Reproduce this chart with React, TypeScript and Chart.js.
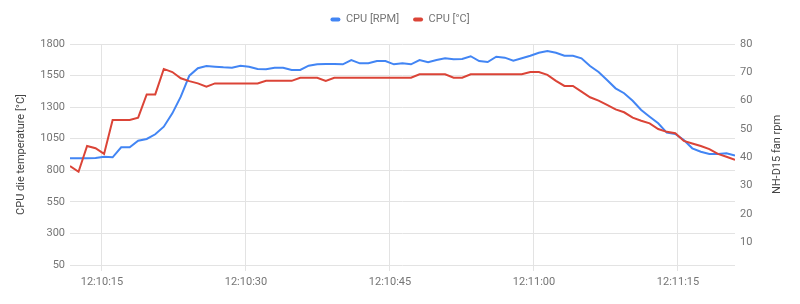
import React, { useEffect, useRef } from 'react';
import { Chart, registerables } from 'chart.js';

Chart.register(...registerables);

// seconds after 12:10:00
const times = [
  11.67, 12.56, 13.45, 14.33, 15.22, 16.11, 17.0, 17.89, 18.77, 19.66,
  20.55, 21.44, 22.33, 23.21, 24.1, 24.99, 25.88, 26.77, 27.65, 28.54,
  29.43, 30.32, 31.21, 32.09, 32.98, 33.87, 34.76, 35.65, 36.53, 37.42,
  38.31, 39.2, 40.09, 40.97, 41.86, 42.75, 43.64, 44.53, 45.41, 46.3,
  47.19, 48.08, 48.97, 49.85, 50.74, 51.63, 52.52, 53.41, 54.29, 55.18,
  56.07, 56.96, 57.85, 58.73, 59.62, 60.51, 61.4, 62.29, 63.17, 64.06,
  64.95, 65.84, 66.73, 67.61, 68.5, 69.39, 70.28, 71.17, 72.05, 72.94,
  73.83, 74.72, 75.61, 76.49, 77.38, 78.27, 79.16, 80.05, 80.94,
];

const cpuRpm = [
  895, 895, 896, 897, 908, 903, 982, 982, 1034, 1048,
  1085, 1145, 1251, 1383, 1549, 1608, 1626, 1620, 1615, 1612,
  1628, 1620, 1602, 1600, 1612, 1612, 1594, 1594, 1628, 1639,
  1642, 1642, 1639, 1673, 1647, 1647, 1665, 1665, 1639, 1647,
  1639, 1673, 1655, 1673, 1687, 1679, 1681, 1703, 1665, 1657,
  1699, 1692, 1668, 1687, 1707, 1731, 1745, 1731, 1707, 1707,
  1687, 1626, 1578, 1515, 1449, 1410, 1351, 1277, 1224, 1172,
  1098, 1087, 1040, 974, 947, 929, 929, 935, 916,
];

const cpuTemp = [
  36.9, 34.9, 44.0, 43.2, 41.2, 53.2, 53.2, 53.2, 54.0, 62.2,
  62.2, 71.2, 70.1, 67.9, 66.9, 66.1, 64.9, 66.1, 66.1, 66.1,
  66.1, 66.1, 66.1, 67.0, 67.0, 67.0, 67.0, 68.1, 68.1, 68.1,
  67.0, 68.1, 68.1, 68.1, 68.1, 68.1, 68.1, 68.1, 68.1, 68.1,
  68.1, 69.3, 69.3, 69.3, 69.3, 68.1, 68.1, 69.3, 69.3, 69.3,
  69.3, 69.3, 69.3, 69.3, 70.1, 70.1, 69.1, 67.0, 65.2, 65.2,
  63.2, 61.2, 60.0, 58.5, 56.9, 55.9, 54.0, 52.9, 52.0, 50.0,
  49.0, 48.5, 45.8, 44.9, 44.0, 42.9, 41.2, 40.2, 39.1,
];

const xTickSeconds = [15, 30, 45, 60, 75];
const leftTicks = [50, 300, 550, 800, 1050, 1300, 1550, 1800];
const rightTicks = [10, 20, 30, 40, 50, 60, 70, 80];

const seriesLabels = ['CPU [RPM]', 'CPU [°C]'];
const leftTitle = 'CPU die temperature [°C]';
const rightTitle = 'NH-D15 fan rpm';
const BLUE = '#4285F4';
const RED = '#DB4437';
const GRID = '#e3e3e3';
const TICK_COLOR = '#757575';
const TITLE_COLOR = '#444444';
const FONT = 'Roboto';

function fmtTime(s: number): string {
  const m = 10 + Math.floor(s / 60);
  const ss = Math.round(s % 60);
  return `12:${m}:${String(ss).padStart(2, '0')}`;
}

const legendHeightPlugin = {
  id: 'legendHeight',
  beforeUpdate(chart: any) {
    const lg = chart.legend;
    if (lg && !lg._patched) {
      const orig = lg.fit;
      lg.fit = function () {
        orig.call(this);
        this.height = 44;
      };
      lg._patched = true;
    }
  },
};

// right axis title, reading bottom-to-top like the left one
const rightTitlePlugin = {
  id: 'rightTitle',
  afterDraw(chart: any) {
    const { ctx, chartArea } = chart;
    ctx.save();
    ctx.translate(777, (chartArea.top + chartArea.bottom) / 2);
    ctx.rotate(-Math.PI / 2);
    ctx.font = `11px ${FONT}`;
    ctx.fillStyle = TITLE_COLOR;
    ctx.textAlign = 'center';
    ctx.textBaseline = 'middle';
    ctx.fillText(rightTitle, 0, 0);
    ctx.restore();
  },
};

export default function App() {
  const ref = useRef<HTMLCanvasElement | null>(null);

  useEffect(() => {
    if (!ref.current) return;
    const chart = new Chart(ref.current, {
      type: 'line',
      data: {
        datasets: [
          {
            label: seriesLabels[0],
            data: times.map((t, i) => ({ x: t, y: cpuRpm[i] })),
            borderColor: BLUE,
            backgroundColor: BLUE,
            borderWidth: 2,
            pointRadius: 0,
            tension: 0,
            yAxisID: 'yL',
            order: 1,
          },
          {
            label: seriesLabels[1],
            data: times.map((t, i) => ({ x: t, y: cpuTemp[i] })),
            borderColor: RED,
            backgroundColor: RED,
            borderWidth: 2,
            pointRadius: 0,
            tension: 0,
            yAxisID: 'yR',
            order: 0,
          },
        ],
      },
      options: {
        animation: false,
        responsive: false,
        maintainAspectRatio: false,
        devicePixelRatio: 1,
        layout: { padding: 0 },
        plugins: {
          tooltip: { enabled: false },
          legend: {
            position: 'top',
            labels: {
              boxWidth: 10,
              boxHeight: 4,
              padding: 14,
              color: TICK_COLOR,
              font: { family: FONT, size: 11 },
              useBorderRadius: true,
              borderRadius: 2,
              sort: (a: any, b: any) => a.datasetIndex - b.datasetIndex,
              generateLabels: (c: any) =>
                Chart.defaults.plugins.legend.labels
                  .generateLabels(c)
                  .map((it: any) => ({ ...it, lineWidth: 0, fillStyle: it.strokeStyle })),
            },
          },
        },
        scales: {
          x: {
            type: 'linear',
            min: times[0],
            max: times[times.length - 1],
            afterBuildTicks: (s: any) => {
              s.ticks = xTickSeconds.map((v) => ({ value: v }));
            },
            afterFit: (s: any) => {
              s.height = 39;
            },
            grid: { color: GRID, tickLength: 6, drawTicks: true },
            border: { display: false },
            ticks: {
              color: TICK_COLOR,
              font: { family: FONT, size: 11 },
              padding: 5,
              maxRotation: 0,
              autoSkip: false,
              callback: (v: any) => fmtTime(Number(v)),
            },
          },
          yL: {
            type: 'linear',
            position: 'left',
            min: 50,
            max: 1800,
            afterBuildTicks: (s: any) => {
              s.ticks = leftTicks.map((v) => ({ value: v }));
            },
            afterFit: (s: any) => {
              s.width = 70;
            },
            grid: { color: GRID, drawTicks: false },
            border: { display: false },
            ticks: {
              color: TICK_COLOR,
              font: { family: FONT, size: 11 },
              padding: 5,
              callback: (v: any) => String(v),
            },
            title: {
              display: true,
              text: leftTitle,
              color: TITLE_COLOR,
              font: { family: FONT, size: 11 },
              padding: { top: 15, bottom: 0 },
            },
          },
          yR: {
            type: 'linear',
            position: 'right',
            min: 2,
            max: 80,
            afterBuildTicks: (s: any) => {
              s.ticks = rightTicks.map((v) => ({ value: v }));
            },
            afterFit: (s: any) => {
              s.width = 65;
            },
            grid: { display: false, drawTicks: false },
            border: { display: false },
            ticks: {
              color: TICK_COLOR,
              font: { family: FONT, size: 11 },
              padding: 5,
              callback: (v: any) => String(v),
            },
          },
        },
      },
      plugins: [legendHeightPlugin, rightTitlePlugin],
    } as any);
    return () => chart.destroy();
  }, []);

  return (
    <div style={{ position: 'absolute', left: 0, top: 0, width: 800, height: 304 }}>
      <canvas ref={ref} width={800} height={304} style={{ display: 'block' }} />
    </div>
  );
}
